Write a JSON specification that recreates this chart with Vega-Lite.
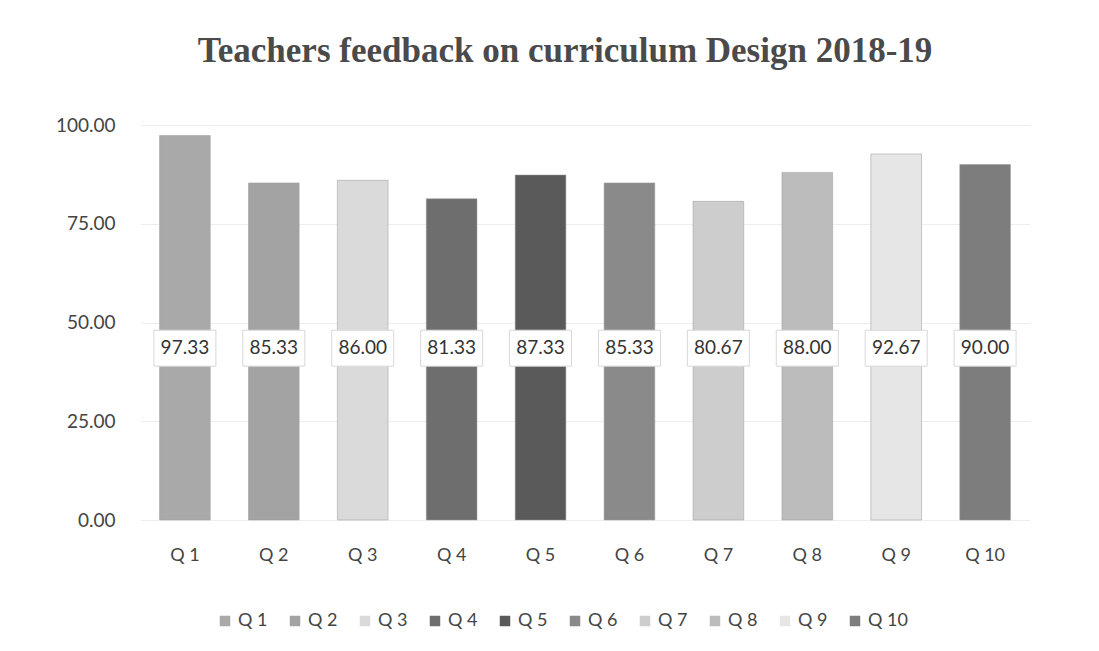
{
  "$schema": "https://vega.github.io/schema/vega-lite/v6.json",
  "autosize": {"type": "none"},
  "padding": {"left": 140, "top": 125, "right": 69, "bottom": 131},
  "width": 890,
  "height": 395,
  "background": "white",
  "title": {
    "text": "Teachers feedback on curriculum Design 2018-19",
    "font": "Liberation Serif",
    "fontSize": 35,
    "fontWeight": "bold",
    "color": "#4a4a4a",
    "anchor": "middle",
    "dx": -20,
    "offset": 47
  },
  "data": {
    "values": [
      {"q": "Q 1", "value": 97.33},
      {"q": "Q 2", "value": 85.33},
      {"q": "Q 3", "value": 86.0},
      {"q": "Q 4", "value": 81.33},
      {"q": "Q 5", "value": 87.33},
      {"q": "Q 6", "value": 85.33},
      {"q": "Q 7", "value": 80.67},
      {"q": "Q 8", "value": 88.0},
      {"q": "Q 9", "value": 92.67},
      {"q": "Q 10", "value": 90.0}
    ]
  },
  "config": {
    "font": "Lato",
    "view": {"stroke": null}
  },
  "encoding": {
    "x": {
      "field": "q",
      "type": "nominal",
      "sort": null,
      "scale": {"paddingInner": 0.43, "paddingOuter": 0.22},
      "axis": {
        "title": null,
        "labelAngle": 0,
        "labelFontSize": 18,
        "labelColor": "#444",
        "labelPadding": 26,
        "domain": false,
        "ticks": false
      }
    }
  },
  "layer": [
    {
      "mark": {"type": "bar", "stroke": "#999", "strokeWidth": 0.5},
      "encoding": {
        "y": {
          "field": "value",
          "type": "quantitative",
          "scale": {"domain": [0, 100]},
          "axis": {
            "title": null,
            "values": [0, 25, 50, 75, 100],
            "format": ".2f",
            "labelFontSize": 19,
            "labelColor": "#444",
            "labelPadding": 25,
            "domain": false,
            "ticks": false,
            "gridColor": "#eeeeee"
          }
        },
        "color": {
          "field": "q",
          "type": "nominal",
          "sort": null,
          "scale": {
            "domain": ["Q 1", "Q 2", "Q 3", "Q 4", "Q 5", "Q 6", "Q 7", "Q 8", "Q 9", "Q 10"],
            "range": ["#a9a9a9", "#a3a3a3", "#dadada", "#6e6e6e", "#5a5a5a", "#8a8a8a", "#cdcdcd", "#bcbcbc", "#e6e6e6", "#7d7d7d"]
          },
          "legend": {
            "title": null,
            "orient": "none",
            "legendX": 76,
            "legendY": 487,
            "direction": "horizontal",
            "columns": 10,
            "symbolType": "square",
            "symbolSize": 110,
            "symbolStrokeWidth": 0,
            "labelFontSize": 18,
            "labelColor": "#444",
            "columnPadding": 18,
            "labelOffset": 4
          }
        }
      }
    },
    {
      "mark": {
        "type": "point",
        "shape": "M-1,-0.58H1V0.58H-1Z",
        "size": 3844,
        "filled": true,
        "fill": "white",
        "stroke": "#d8d8d8",
        "strokeWidth": 1,
        "opacity": 1
      },
      "encoding": {"y": {"datum": 43.5}}
    },
    {
      "mark": {"type": "text", "fontSize": 19, "color": "#333"},
      "encoding": {
        "y": {"datum": 43.5},
        "text": {"field": "value", "type": "quantitative", "format": ".2f"}
      }
    }
  ]
}
